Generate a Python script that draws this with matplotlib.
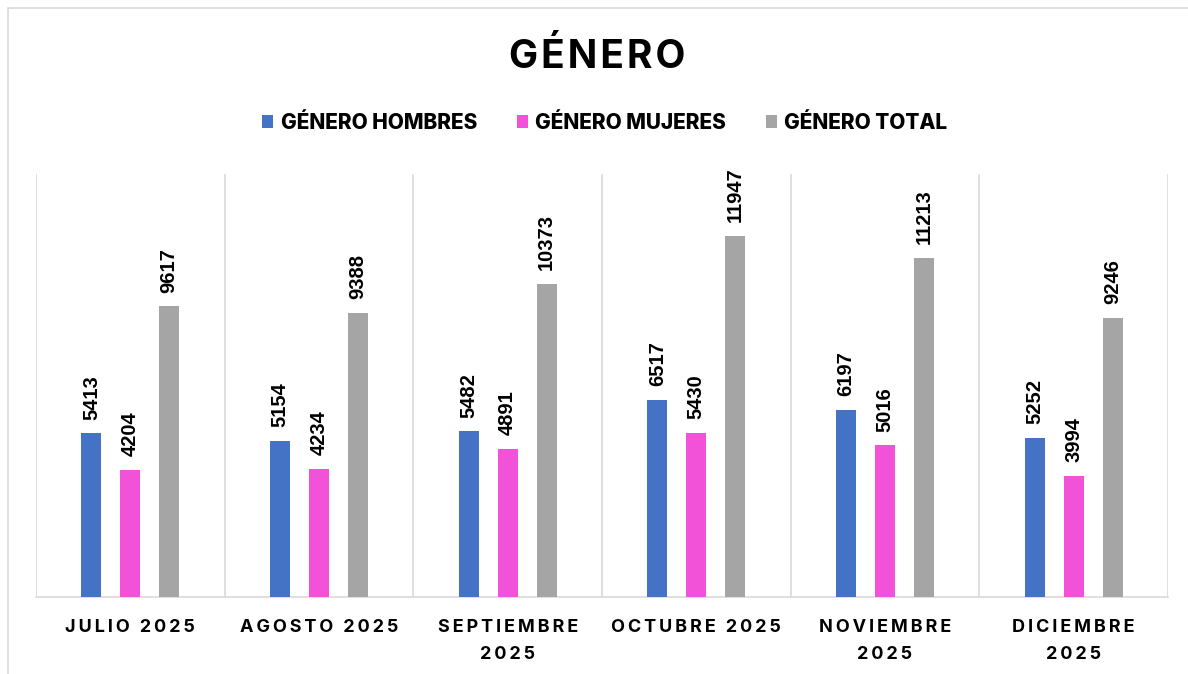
import numpy as np
import matplotlib.pyplot as plt
from matplotlib.patches import Patch, Rectangle

# data
months = ["JULIO 2025", "AGOSTO 2025", "SEPTIEMBRE\n2025", "OCTUBRE 2025",
          "NOVIEMBRE\n2025", "DICIEMBRE\n2025"]
hombres = [5413, 5154, 5482, 6517, 6197, 5252]
mujeres = [4204, 4234, 4891, 5430, 5016, 3994]
total = [9617, 9388, 10373, 11947, 11213, 9246]
series_names = ["GÉNERO HOMBRES", "GÉNERO MUJERES", "GÉNERO TOTAL"]
colors = ["#4472C4", "#F252D7", "#A5A5A5"]

FAMILY = ["Inter", "DejaVu Sans"]
LABEL_FAMILY = ["Liberation Sans", "DejaVu Sans"]


def spaced(text: str, sep: str = "\u2009") -> str:
    """Fake letter spacing by putting thin spaces between characters."""
    lines = text.split("\n")
    return "\n".join(sep.join(list(line)) for line in lines)


fig = plt.figure(figsize=(11.88, 6.74), dpi=100)
ax = fig.add_axes([0.0303, 0.1142, 0.9529, 0.6276])

# outer chart border (light gray frame)
fig.patches.append(Rectangle((0.0067, -0.02), 1.05, 1.008, transform=fig.transFigure,
                             fill=False, edgecolor="#D9D9D9", linewidth=1.2))

x = np.arange(len(months))
offset = 0.206
width = 0.106
values = [hombres, mujeres, total]

for i, (vals, col) in enumerate(zip(values, colors)):
    bars = ax.bar(x + (i - 1) * offset, vals, width=width, color=col, zorder=3)
    for rect, v in zip(bars, vals):
        ax.annotate(str(v), (rect.get_x() + rect.get_width() / 2, rect.get_height()),
                    xytext=(0, 10), textcoords="offset points", rotation=90,
                    ha="center", va="bottom", fontsize=14.5, fontweight="bold",
                    family=LABEL_FAMILY, color="#000000")

ax.set_xlim(-0.5, len(months) - 0.5)
ax.set_ylim(0, 14000)
ax.set_yticks([])

# vertical separators between categories
for b in np.arange(-0.5, len(months), 1.0):
    ax.axvline(b, color="#D9D9D9", linewidth=1.2, zorder=1)

for side in ["top", "right", "left"]:
    ax.spines[side].set_visible(False)
ax.spines["bottom"].set_color("#D9D9D9")
ax.spines["bottom"].set_linewidth(1.2)

ax.set_xticks(x)
ax.set_xticklabels([spaced(m) for m in months], fontsize=13, fontweight="bold",
                   family=FAMILY, linespacing=1.75)
ax.tick_params(axis="x", length=0, pad=16)

fig.text(0.503, 0.915, spaced("GÉNERO", "\u200a"), ha="center", va="center", fontsize=28,
         fontweight="bold", family=FAMILY)

handles = [Patch(facecolor=c, edgecolor="none") for c in colors]
leg = fig.legend(handles, series_names, loc="center", bbox_to_anchor=(0.509, 0.818),
                 ncol=3, frameon=False, handlelength=0.55, handleheight=0.55,
                 handletextpad=0.35, columnspacing=1.9,
                 prop={"family": FAMILY, "weight": "heavy", "size": 15})

fig.savefig("out.png", dpi=100, facecolor="white")
